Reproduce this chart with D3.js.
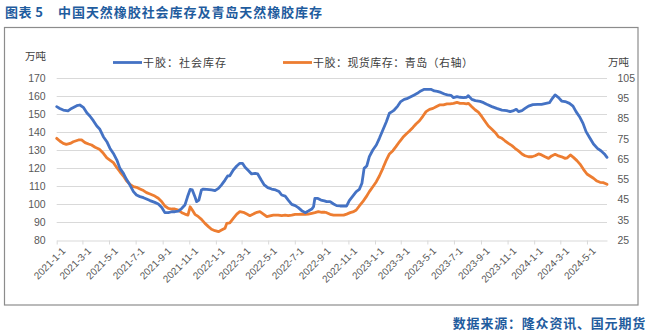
<!DOCTYPE html>
<html>
<head>
<meta charset="utf-8">
<script src="https://cdn.jsdelivr.net/npm/d3@7"></script>
<style>
  html, body { margin: 0; padding: 0; background: #fff; }
  svg { display: block; }
  .tick text { font-family: "Liberation Sans", Arial, sans-serif; }
</style>
</head>
<body>
<svg id="chart" width="655" height="332"></svg>
<script>
// 干胶社会库存（左轴，万吨）
const socialDates = ["2021-01-01","2021-01-08","2021-01-16","2021-01-27","2021-02-04","2021-02-16","2021-02-23","2021-03-03","2021-03-11","2021-03-18","2021-03-26","2021-04-03","2021-04-10","2021-04-18","2021-04-26","2021-05-03","2021-05-11","2021-05-19","2021-05-26","2021-06-03","2021-06-10","2021-06-18","2021-06-26","2021-07-03","2021-07-11","2021-07-19","2021-07-26","2021-08-03","2021-08-14","2021-08-22","2021-08-30","2021-09-06","2021-09-14","2021-09-22","2021-09-29","2021-10-07","2021-10-15","2021-10-22","2021-10-28","2021-11-03","2021-11-08","2021-11-14","2021-11-18","2021-11-23","2021-11-29","2021-12-03","2021-12-11","2021-12-22","2021-12-30","2022-01-07","2022-01-14","2022-01-22","2022-01-28","2022-02-02","2022-02-10","2022-02-18","2022-02-25","2022-03-03","2022-03-09","2022-03-17","2022-03-24","2022-04-01","2022-04-07","2022-04-15","2022-04-22","2022-04-30","2022-05-09","2022-05-18","2022-05-26","2022-06-01","2022-06-09","2022-06-16","2022-06-24","2022-07-02","2022-07-09","2022-07-17","2022-07-25","2022-08-01","2022-08-09","2022-08-13","2022-08-16","2022-08-23","2022-08-30","2022-09-07","2022-09-12","2022-09-20","2022-09-28","2022-10-05","2022-10-13","2022-10-21","2022-10-28","2022-11-03","2022-11-11","2022-11-19","2022-11-26","2022-12-02","2022-12-07","2022-12-13","2022-12-19","2022-12-27","2023-01-04","2023-01-11","2023-01-19","2023-01-27","2023-02-03","2023-02-09","2023-02-14","2023-02-22","2023-03-01","2023-03-09","2023-03-17","2023-03-24","2023-04-01","2023-04-08","2023-04-16","2023-04-24","2023-05-01","2023-05-09","2023-05-17","2023-05-24","2023-06-01","2023-06-09","2023-06-16","2023-06-24","2023-06-30","2023-07-08","2023-07-15","2023-07-23","2023-07-30","2023-08-03","2023-08-11","2023-08-19","2023-08-30","2023-09-07","2023-09-14","2023-09-26","2023-10-07","2023-10-19","2023-10-30","2023-11-07","2023-11-13","2023-11-21","2023-11-26","2023-12-04","2023-12-11","2023-12-19","2023-12-29","2024-01-09","2024-01-18","2024-01-28","2024-02-05","2024-02-10","2024-02-18","2024-02-26","2024-03-04","2024-03-12","2024-03-22","2024-03-30","2024-04-06","2024-04-14","2024-04-22","2024-04-29","2024-05-08","2024-05-16","2024-05-25","2024-06-02","2024-06-10","2024-06-16"];
const socialValues = [154.1,153.1,152.2,151.7,153.1,154.6,155.0,153.7,150.7,148.9,146.3,143.3,141.5,137.4,134.6,131.0,128.1,124.4,119.8,117.0,113.7,110.5,106.9,105.0,104.1,103.5,102.8,101.9,100.9,100.0,98.1,95.2,95.2,95.7,95.7,96.1,97.6,99.4,104.0,108.1,107.8,104.0,101.3,102.2,107.8,108.3,108.1,107.8,107.4,108.7,110.6,113.3,115.6,115.7,118.9,121.1,122.6,122.6,120.4,118.5,116.7,117.0,116.7,113.3,110.6,109.1,108.3,107.8,106.9,105.0,104.4,102.2,99.8,99.1,98.0,96.3,95.2,96.1,97.2,98.5,103.1,103.1,102.2,101.7,101.3,101.3,100.0,99.1,98.9,98.9,98.9,101.9,104.4,106.9,108.1,111.5,119.8,121.1,126.3,130.0,132.8,136.5,141.1,145.7,150.4,151.3,152.2,154.4,156.9,158.1,158.7,159.6,160.6,161.5,162.8,163.7,163.7,163.7,162.8,162.6,162.0,161.1,160.6,160.4,159.1,159.6,159.3,159.1,159.3,160.2,158.1,157.4,157.0,156.3,155.4,154.1,153.1,152.2,151.9,151.3,151.7,152.6,151.3,151.9,153.1,154.4,155.2,155.4,155.4,155.9,156.3,158.1,160.6,159.1,157.2,156.9,155.9,154.4,151.3,148.5,144.8,140.2,136.5,133.3,130.9,129.6,127.8,125.9];

// 干胶现货库存：青岛（右轴，万吨）
const qingdaoDates = ["2021-01-01","2021-01-08","2021-01-16","2021-01-23","2021-02-01","2021-02-08","2021-02-20","2021-02-27","2021-03-07","2021-03-15","2021-03-22","2021-03-30","2021-04-09","2021-04-18","2021-04-26","2021-05-03","2021-05-11","2021-05-19","2021-05-26","2021-06-03","2021-06-10","2021-06-18","2021-06-26","2021-07-03","2021-07-11","2021-07-19","2021-07-26","2021-08-03","2021-08-14","2021-08-22","2021-08-30","2021-09-06","2021-09-14","2021-09-22","2021-09-29","2021-10-07","2021-10-15","2021-10-22","2021-10-29","2021-11-03","2021-11-08","2021-11-14","2021-11-22","2021-11-29","2021-12-07","2021-12-15","2021-12-22","2021-12-30","2022-01-07","2022-01-14","2022-01-22","2022-01-26","2022-02-02","2022-02-10","2022-02-18","2022-02-25","2022-03-05","2022-03-13","2022-03-20","2022-03-28","2022-04-05","2022-04-12","2022-04-20","2022-04-28","2022-05-05","2022-05-13","2022-05-24","2022-06-01","2022-06-09","2022-06-16","2022-06-24","2022-07-02","2022-07-09","2022-07-17","2022-07-25","2022-08-01","2022-08-09","2022-08-16","2022-08-24","2022-09-01","2022-09-08","2022-09-12","2022-09-20","2022-09-28","2022-10-05","2022-10-13","2022-10-21","2022-10-28","2022-11-05","2022-11-13","2022-11-19","2022-11-26","2022-12-04","2022-12-12","2022-12-19","2022-12-27","2023-01-04","2023-01-11","2023-01-19","2023-01-27","2023-02-03","2023-02-11","2023-02-18","2023-02-26","2023-03-06","2023-03-13","2023-03-21","2023-03-29","2023-04-05","2023-04-13","2023-04-21","2023-04-28","2023-05-06","2023-05-14","2023-05-21","2023-05-29","2023-06-07","2023-06-15","2023-06-22","2023-06-30","2023-07-08","2023-07-15","2023-07-23","2023-07-30","2023-08-03","2023-08-11","2023-08-19","2023-08-26","2023-09-03","2023-09-11","2023-09-18","2023-09-26","2023-10-04","2023-10-11","2023-10-19","2023-10-26","2023-11-03","2023-11-11","2023-11-18","2023-11-26","2023-12-04","2023-12-11","2023-12-19","2023-12-27","2024-01-03","2024-01-11","2024-01-18","2024-01-26","2024-02-03","2024-02-10","2024-02-18","2024-02-26","2024-03-04","2024-03-12","2024-03-17","2024-03-24","2024-03-31","2024-04-08","2024-04-15","2024-04-23","2024-05-01","2024-05-08","2024-05-16","2024-05-24","2024-05-31","2024-06-08","2024-06-16"];
const qingdaoValues = [75.2,73.9,72.7,72.2,72.7,73.5,74.4,74.4,73.1,72.4,71.9,70.8,69.8,67.8,65.6,64.5,63.2,60.7,58.7,56.6,54.3,52.5,51.3,51.0,50.2,49.4,48.4,47.7,46.7,45.6,43.9,41.8,40.6,40.3,40.3,39.8,38.5,37.8,37.3,41.4,39.8,37.7,36.5,35.2,33.2,31.6,30.3,29.6,29.1,29.9,30.8,33.2,33.5,35.7,37.8,39.0,38.7,37.8,37.0,37.8,38.7,39.0,37.8,36.5,36.9,37.3,37.3,37.0,37.3,37.0,37.3,37.7,37.7,37.8,37.7,37.8,38.2,38.5,39.0,38.7,38.7,38.5,37.7,37.3,37.3,37.3,37.3,37.8,38.5,39.0,39.8,41.8,43.9,46.4,48.9,51.3,53.8,56.6,60.4,64.5,67.5,69.1,71.1,73.5,75.7,77.2,78.8,80.6,82.3,83.9,86.2,88.4,89.5,90.0,90.8,91.7,91.7,92.2,92.2,92.5,93.0,92.5,92.5,92.2,92.5,90.8,89.2,88.1,85.9,83.4,81.3,79.7,78.0,76.0,75.2,74.0,72.7,71.6,70.3,69.0,67.5,66.6,66.1,66.1,66.6,67.5,67.0,66.1,65.3,66.5,67.3,66.5,66.1,65.3,65.6,67.0,65.8,64.2,62.5,59.9,57.6,56.6,55.5,54.1,53.5,53.3,52.5];

// 坐标轴刻度
const leftTicks = [80, 90, 100, 110, 120, 130, 140, 150, 160, 170];
const rightTicks = [25, 35, 45, 55, 65, 75, 85, 95, 105];
const xTickStart = "2021-01-01";
const xTickEnd = "2024-06-01";
const xDomain = ["2021-01-01", "2024-06-16"];

const seriesNames = ["干胶：社会库存", "干胶：现货库存：青岛（右轴）"];
const seriesColors = ["#4472C4", "#ED7D31"];

const parse = d3.timeParse("%Y-%m-%d");
const svg = d3.select("#chart");

const plot = { left: 56.7, right: 607, top: 78, bottom: 240 };

const x = d3.scaleTime().domain(xDomain.map(parse)).range([plot.left, plot.right]);
const yL = d3.scaleLinear().domain([80, 170]).range([plot.bottom, plot.top]);
const yR = d3.scaleLinear().domain([25, 105]).range([plot.bottom, plot.top]);

// 标题
svg.append("text")
  .attr("x", 5).attr("y", 16.5)
  .attr("fill", "#1F5C9E")
  .attr("textLength", 38).attr("lengthAdjust", "spacing")
  .style("font-family", "'Noto Sans CJK SC', sans-serif")
  .style("font-size", "13px").style("font-weight", "bold")
  .text("图表 5");
svg.append("text")
  .attr("x", 58).attr("y", 16.5)
  .attr("fill", "#1F5C9E")
  .attr("textLength", 264).attr("lengthAdjust", "spacing")
  .style("font-family", "'Noto Sans CJK SC', sans-serif")
  .style("font-size", "13px").style("font-weight", "bold")
  .text("中国天然橡胶社会库存及青岛天然橡胶库存");

// 外框
svg.append("rect")
  .attr("x", 4.5).attr("y", 27.5).attr("width", 633.5).attr("height", 277.5)
  .attr("fill", "none").attr("stroke", "#8c8c8c").attr("stroke-width", 1.2);

// 网格线
svg.append("g").selectAll("line")
  .data(leftTicks.slice(1))
  .join("line")
  .attr("x1", plot.left).attr("x2", plot.right)
  .attr("y1", d => Math.round(yL(d)) + 0.5).attr("y2", d => Math.round(yL(d)) + 0.5)
  .attr("stroke", "#d9d9d9").attr("stroke-width", 1);

// 左轴
const gL = svg.append("g").attr("transform", `translate(${plot.left},0)`)
  .call(d3.axisLeft(yL).tickValues(leftTicks).tickSize(0).tickPadding(11));
gL.select(".domain").remove();
gL.selectAll("text").attr("fill", "#595959").style("font-size", "10.5px");

// 右轴
const gR = svg.append("g").attr("transform", `translate(${plot.right},0)`)
  .call(d3.axisRight(yR).tickValues(rightTicks).tickSize(0).tickPadding(10.5));
gR.select(".domain").remove();
gR.selectAll("text").attr("fill", "#595959").style("font-size", "10.5px");

// 横轴
const xTicks = d3.timeMonth.every(2).range(parse(xTickStart), d3.timeDay.offset(parse(xTickEnd), 1));
const gX = svg.append("g").attr("transform", `translate(0,${Math.round(plot.bottom) + 0.5})`)
  .call(d3.axisBottom(x).tickValues(xTicks).tickSize(4).tickSizeOuter(0)
    .tickFormat(d => `${d.getFullYear()}-${d.getMonth() + 1}-1`));
gX.select(".domain").attr("stroke", "#d9d9d9");
gX.selectAll(".tick line").attr("stroke", "#d9d9d9");
gX.selectAll("text")
  .attr("fill", "#595959")
  .style("font-size", "10px")
  .attr("text-anchor", "end")
  .attr("dy", "0.3em")
  .attr("transform", "translate(2,4) rotate(-45)");

// 单位
svg.append("text").attr("x", 25).attr("y", 59.5)
  .attr("fill", "#404040")
  .style("font-family", "'Noto Sans CJK SC', sans-serif").style("font-size", "10.5px")
  .text("万吨");
svg.append("text").attr("x", 608).attr("y", 65.5)
  .attr("fill", "#404040")
  .style("font-family", "'Noto Sans CJK SC', sans-serif").style("font-size", "10.5px")
  .text("万吨");

// 折线
const socialData = socialDates.map((d, i) => ({ date: parse(d), value: socialValues[i] }));
const qingdaoData = qingdaoDates.map((d, i) => ({ date: parse(d), value: qingdaoValues[i] }));

const lineL = d3.line().x(d => x(d.date)).y(d => yL(d.value));
const lineR = d3.line().x(d => x(d.date)).y(d => yR(d.value));

svg.append("path").datum(qingdaoData)
  .attr("d", lineR).attr("fill", "none")
  .attr("stroke", seriesColors[1]).attr("stroke-width", 2.8)
  .attr("stroke-linejoin", "round").attr("stroke-linecap", "round");
svg.append("path").datum(socialData)
  .attr("d", lineL).attr("fill", "none")
  .attr("stroke", seriesColors[0]).attr("stroke-width", 2.8)
  .attr("stroke-linejoin", "round").attr("stroke-linecap", "round");

// 图例
const legendItems = [
  { x: 113, name: seriesNames[0], color: seriesColors[0], len: 83 },
  { x: 283, name: seriesNames[1], color: seriesColors[1], len: 160 }
];
const lg = svg.append("g");
legendItems.forEach(it => {
  lg.append("line")
    .attr("x1", it.x).attr("x2", it.x + 29)
    .attr("y1", 62.5).attr("y2", 62.5)
    .attr("stroke", it.color).attr("stroke-width", 2.8);
  lg.append("text")
    .attr("x", it.x + 30).attr("y", 66.5)
    .attr("fill", "#404040")
    .attr("textLength", it.len).attr("lengthAdjust", "spacing")
    .style("font-family", "'Noto Sans CJK SC', sans-serif").style("font-size", "11px")
    .text(it.name);
});

// 数据来源
svg.append("text")
  .attr("x", 646).attr("y", 328)
  .attr("text-anchor", "end")
  .attr("fill", "#1F5C9E")
  .style("font-family", "'Noto Sans CJK SC', sans-serif")
  .style("font-size", "13px").style("font-weight", "bold")
  .style("letter-spacing", "0.8px")
  .text("数据来源：隆众资讯、国元期货");
</script>
</body>
</html>
